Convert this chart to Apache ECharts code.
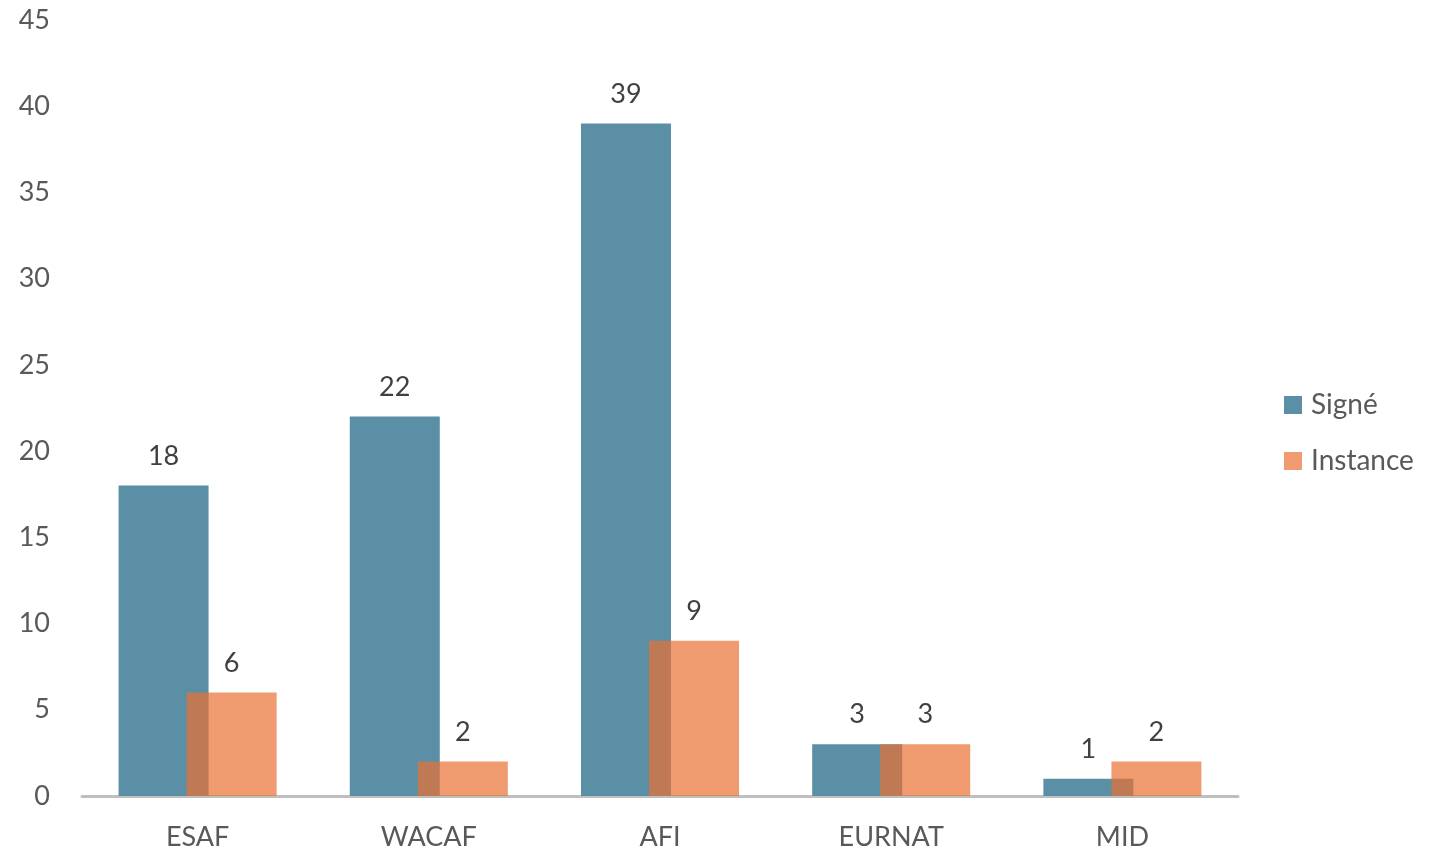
<!DOCTYPE html>
<html><head><meta charset="utf-8">
<script src="https://cdn.jsdelivr.net/npm/echarts@6/dist/echarts.min.js"></script>
<style>html,body{margin:0;padding:0;background:#fff}#c{width:1442px;height:851px}</style>
</head><body><div id="c"></div>
<script>
const categories = ['ESAF', 'WACAF', 'AFI', 'EURNAT', 'MID'];
const signe = [18, 22, 39, 3, 1];
const instance = [6, 2, 9, 3, 2];
const seriesNames = ['Signé', 'Instance'];

const font = 'Lato, "Open Sans", sans-serif';
const chart = echarts.init(document.getElementById('c'));
chart.setOption({
  animation: false,
  textStyle: { fontFamily: font },
  grid: { left: 82, right: 204, top: 20, bottom: 54 },
  legend: {
    orient: 'vertical', left: 1279, top: 386,
    itemWidth: 18, itemHeight: 18, itemGap: 28,
    icon: 'rect',
    textStyle: { fontSize: 28, color: '#595959', fontFamily: font, padding: [0, 0, 0, 4] },
    data: seriesNames
  },
  xAxis: {
    type: 'category', data: categories,
    axisLine: { lineStyle: { color: '#bfbfbf', width: 3 } },
    axisTick: { show: false },
    axisLabel: { fontSize: 27, color: '#595959', margin: 28, fontFamily: font }
  },
  yAxis: {
    type: 'value', min: 0, max: 45, interval: 5,
    axisLine: { show: false }, axisTick: { show: false },
    splitLine: { show: false },
    axisLabel: { fontSize: 27, color: '#595959', margin: 32, fontFamily: font }
  },
  series: [
    { name: seriesNames[0], type: 'bar', data: signe, barWidth: 90, barGap: '-24.4%',
      itemStyle: { color: '#5b8fa6' },
      label: { show: true, position: 'top', distance: 16, fontSize: 27, color: '#404040', fontFamily: font } },
    { name: seriesNames[1], type: 'bar', data: instance, barWidth: 90,
      itemStyle: { color: 'rgba(232,114,51,0.707)' },
      label: { show: true, position: 'top', distance: 16, fontSize: 27, color: '#404040', fontFamily: font } }
  ]
});
</script></body></html>
